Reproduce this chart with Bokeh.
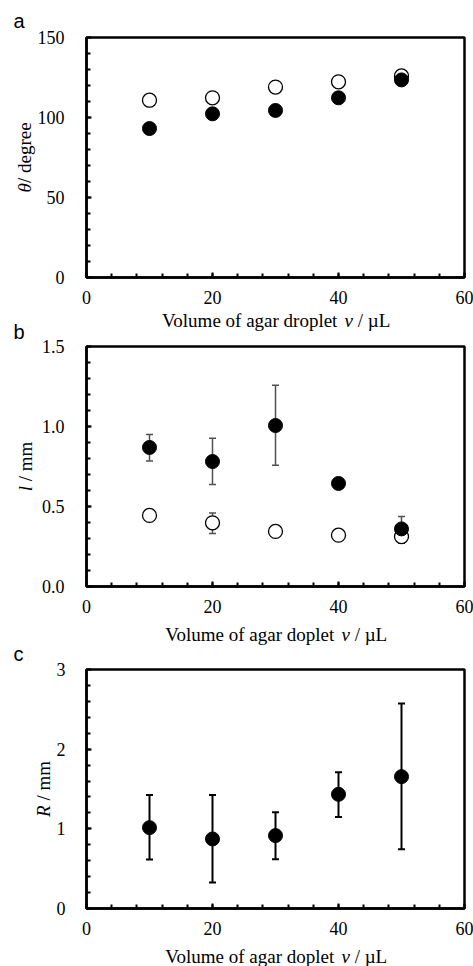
import math
from bokeh.plotting import figure
from bokeh.models import (Range1d, SingleIntervalTicker, Label, Whisker,
                          ColumnDataSource, TeeHead, PrintfTickFormatter)
from bokeh.layouts import column
from bokeh.embed import file_html
from bokeh.resources import INLINE

# ---------------- data ----------------
vol = [10, 20, 30, 40, 50]

theta_open = [110.8, 112.3, 119.0, 122.3, 126.0]
theta_filled = [93.1, 102.3, 104.4, 112.3, 123.5]

l_open = [0.444, 0.398, 0.344, 0.321, 0.312]
l_open_lo = [0.425, 0.331, 0.325, 0.300, 0.270]
l_open_hi = [0.465, 0.460, 0.365, 0.340, 0.350]
l_filled = [0.869, 0.781, 1.006, 0.644, 0.360]
l_filled_lo = [0.785, 0.637, 0.758, 0.620, 0.285]
l_filled_hi = [0.950, 0.927, 1.258, 0.670, 0.437]

R_val = [1.015, 0.873, 0.915, 1.433, 1.655]
R_lo = [0.614, 0.326, 0.618, 1.149, 0.744]
R_hi = [1.425, 1.425, 1.208, 1.709, 2.574]

x_ticks_interval = 20
xlabel_a = ["Volume of agar droplet", "v", "/ \u00b5L"]
xlabel_bc = ["Volume of agar doplet", "v", "/ \u00b5L"]
ylabel_a = ["\u03b8", "/ degree"]
ylabel_b = ["l", "/ mm"]
ylabel_c = ["R", "/ mm"]

# ---------------- styling helpers ----------------
SERIF = "Liberation Serif"
SANS = "Liberation Sans"
PAGE_W = 473
FRAME_L, FRAME_R = 86, 464
FS_TICK = "18px"
FS_LAB = 19
FS_LET = 20
MID_SERIF = 0.3375   # baseline lies this many em below the text middle
MID_SANS = 0.3465

# approximate Times/Liberation Serif advance widths (em)
REG = {" ": .25, "V": .722, "o": .5, "l": .278, "u": .5, "m": .778, "e": .444,
       "f": .333, "a": .444, "g": .5, "r": .333, "d": .5, "p": .5, "t": .278,
       "/": .278, "\u00b5": .5, "L": .611}
ITA = {"v": .444, "\u03b8": .5, "l": .278, "R": .611}


def tw(s, italic):
    tab = ITA if italic else REG
    return sum(tab.get(c, .5) for c in s) * FS_LAB


def make_fig(h, top, bottom, yr, ymaj, fmt, ystandoff):
    p = figure(width=PAGE_W, height=h, x_range=Range1d(0, 60), y_range=Range1d(*yr),
               output_backend="svg", toolbar_location=None,
               min_border_left=FRAME_L, min_border_right=PAGE_W - FRAME_R,
               min_border_top=top, min_border_bottom=bottom)
    p.xgrid.visible = False
    p.ygrid.visible = False
    p.background_fill_color = "white"
    p.border_fill_color = "white"
    p.outline_line_color = "black"
    p.outline_line_width = 2.5
    p.xaxis.ticker = SingleIntervalTicker(interval=x_ticks_interval, num_minor_ticks=5)
    p.yaxis.ticker = SingleIntervalTicker(interval=ymaj, num_minor_ticks=5)
    p.yaxis.formatter = PrintfTickFormatter(format=fmt)
    p.xaxis.formatter = PrintfTickFormatter(format="%d")
    for ax in (p.xaxis, p.yaxis):
        ax.axis_line_width = 2.5
        ax.axis_line_color = "black"
        ax.major_tick_in = 5
        ax.major_tick_out = 0
        ax.minor_tick_in = 4
        ax.minor_tick_out = 0
        ax.major_tick_line_width = 2
        ax.minor_tick_line_width = 2
        ax.major_tick_line_color = "black"
        ax.minor_tick_line_color = "black"
        ax.major_label_text_font = SERIF
        ax.major_label_text_font_size = FS_TICK
        ax.major_label_text_color = "black"
    p.xaxis.major_label_standoff = 13
    p.yaxis.major_label_standoff = ystandoff
    return p


def text_canvas(h, y_top):
    # text strip whose frame lines up with the plot frames; data units = page pixels
    s = figure(width=PAGE_W, height=h, x_range=Range1d(FRAME_L, FRAME_R),
               y_range=Range1d(y_top + h, y_top),
               x_axis_type=None, y_axis_type=None,
               min_border_left=FRAME_L, min_border_right=PAGE_W - FRAME_R,
               min_border_top=0, min_border_bottom=0,
               output_backend="svg", toolbar_location=None)
    s.outline_line_color = None
    s.background_fill_color = "white"
    s.border_fill_color = "white"
    return s


def add_label(p, x, y, text, dx=0.0, dy=0.0, italic=False, angle=0.0,
              font=SERIF, size=FS_LAB, place="center"):
    p.add_layout(Label(x=x, y=y, text=text, x_offset=dx, y_offset=dy, angle=angle,
                       text_align="left", text_baseline="middle",
                       text_font=font, text_font_size=f"{size}px",
                       text_font_style="italic" if italic else "normal",
                       text_color="black"), place)


def xlabel(s, parts, cx, base):
    ital = [False, True, False]
    widths = [tw(t, i) for t, i in zip(parts, ital)]
    sp = REG[" "] * FS_LAB
    total = sum(widths) + sp * (len(parts) - 1)
    x = cx - total / 2
    y = base - MID_SERIF * FS_LAB
    for t, i, w in zip(parts, ital, widths):
        add_label(s, x, y, t, italic=i)
        x += w + sp


def ylabel(p, parts, base_x, places, gap=True):
    # rotated label centred on the frame; base_x = page x of the text baseline
    ital = [True, False]
    widths = [tw(t, i) for t, i in zip(parts, ital)]
    sp = REG[" "] * FS_LAB if gap else 0
    total = sum(widths) + sp
    dy = -total / 2
    dx = base_x - MID_SERIF * FS_LAB - FRAME_L
    ymid = (p.y_range.start + p.y_range.end) / 2
    for t, i, w, pl in zip(parts, ital, widths, places):
        add_label(p, 0, ymid, t, dx=dx, dy=dy, italic=i, angle=math.pi / 2, place=pl)
        dy += w + sp


def letter_strip(s, x, base, text):
    add_label(s, x, base - MID_SANS * FS_LET, text, font=SANS, size=FS_LET,
              place="left")


CX = (FRAME_L + FRAME_R) / 2

# ---------------- panel a (page y 0..312) ----------------
pa = make_fig(312, 37, 35, (0, 150), 50, "%d", 22)
pa.scatter(vol, theta_open, size=14, marker="circle", fill_color="white",
           line_color="black", line_width=1.3)
pa.scatter(vol, theta_filled, size=14, marker="circle", fill_color="black",
           line_color="black")
# panel letter "a": baseline at page y 27, frame top at page y 37
add_label(pa, 0, 150, "a", dx=13 - FRAME_L, dy=37 - (27 - MID_SANS * FS_LET),
          font=SANS, size=FS_LET, place="above")
ylabel(pa, ylabel_a, 30, ["above", "left"], gap=False)

# strip page y 312..339
sab = text_canvas(27, 312)
xlabel(sab, xlabel_a, CX, 326)
letter_strip(sab, 13, 338.5, "b")

# ---------------- panel b (page y 339..621) ----------------
pb = make_fig(282, 7, 35, (0, 1.5), 0.5, "%.1f", 22)
src_bo = ColumnDataSource(dict(x=vol, lo=l_open_lo, hi=l_open_hi))
src_bf = ColumnDataSource(dict(x=vol, lo=l_filled_lo, hi=l_filled_hi))
for src in (src_bo, src_bf):
    pb.add_layout(Whisker(source=src, base="x", lower="lo", upper="hi",
                          dimension="height", line_color="#505050", line_width=1.5,
                          level="underlay",
                          upper_head=TeeHead(size=7, line_color="#505050", line_width=1.5),
                          lower_head=TeeHead(size=7, line_color="#505050", line_width=1.5)))
pb.scatter(vol, l_open, size=14, marker="circle", fill_color="white",
           line_color="black", line_width=1.3)
pb.scatter(vol, l_filled, size=14, marker="circle", fill_color="black",
           line_color="black")
ylabel(pb, ylabel_b, 31.5, ["above", "left"])

# strip page y 621..662
sbc = text_canvas(41, 621)
xlabel(sbc, xlabel_bc, CX, 640)
letter_strip(sbc, 13, 660.5, "c")

# ---------------- panel c (page y 662..943) ----------------
pc = make_fig(281, 7, 35, (0, 3), 1, "%d", 21)
src_c = ColumnDataSource(dict(x=vol, lo=R_lo, hi=R_hi))
pc.add_layout(Whisker(source=src_c, base="x", lower="lo", upper="hi",
                      dimension="height", line_color="black", line_width=2,
                      level="underlay",
                      upper_head=TeeHead(size=7, line_color="black", line_width=2),
                      lower_head=TeeHead(size=7, line_color="black", line_width=2)))
pc.scatter(vol, R_val, size=14, marker="circle", fill_color="black",
           line_color="black")
ylabel(pc, ylabel_c, 49.5, ["left", "left"])

# strip page y 943..966
sc = text_canvas(23, 943)
xlabel(sc, xlabel_bc, CX, 962)

layout = column(pa, sab, pb, sbc, pc, sc, spacing=0)
open("out.html", "w").write(file_html(layout, INLINE))
